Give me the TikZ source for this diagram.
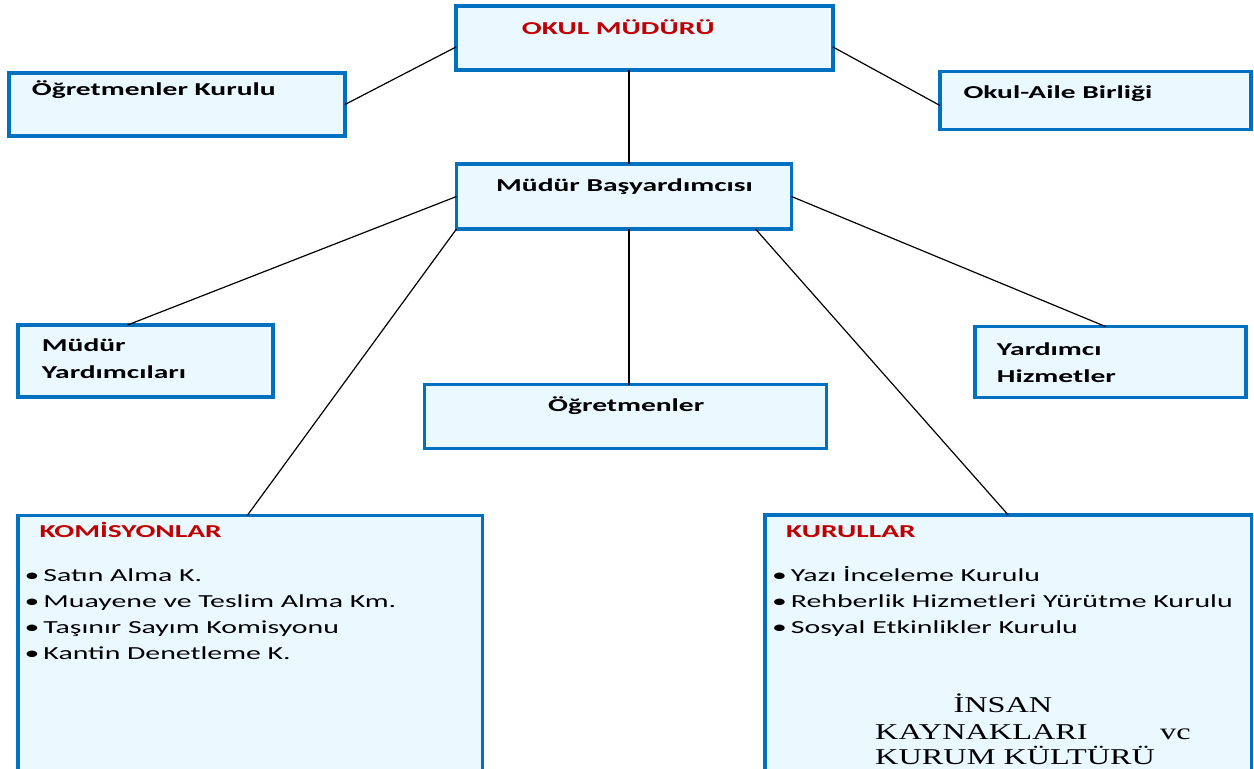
\documentclass[tikz,border=0pt]{standalone}
\usepackage{fontspec}
\setmainfont{Carlito}[FakeStretch=1.62]
\newfontfamily\timesx{Liberation Serif}[FakeStretch=1.43]
\definecolor{boxblue}{RGB}{0,112,192}
\definecolor{boxfill}{RGB}{234,248,255}
\definecolor{titlered}{RGB}{192,0,0}
\newcommand{\itemdot}{\llap{•\hspace{4pt}}}
\tikzset{
  orgbox/.style={draw=boxblue, line width=3.4pt, fill=boxfill, rectangle,
    anchor=north west, inner sep=0pt, outer sep=0pt},
  headtxt/.style={anchor=base west, inner sep=0pt,
    font=\fontsize{18.2}{20}\selectfont\bfseries},
  redtxt/.style={headtxt, text=titlered},
  itemtxt/.style={anchor=base west, inner sep=0pt,
    font=\fontsize{18.4}{20}\selectfont},
  oldtxt/.style={anchor=base west, inner sep=0pt,
    font=\timesx\fontsize{22.6}{24}\selectfont},
  link/.style={line width=1.2pt}
}
\begin{document}
\begin{tikzpicture}[x=1pt,y=-1pt]
    \useasboundingbox (0,0) rectangle (1254,769);

    % Boxes
    \node[orgbox, minimum width=377pt, minimum height=64pt] (okul) at (456,6) {};
    \node[orgbox, minimum width=336pt, minimum height=63pt] (ogk) at (9,73) {};
    \node[orgbox, minimum width=311pt, minimum height=58pt] (oab) at (940,71.5) {};
    \node[orgbox, minimum width=335pt, minimum height=65pt] (mby) at (456.5,164) {};
    \node[orgbox, minimum width=255pt, minimum height=72pt] (my) at (18,325) {};
    \node[orgbox, minimum width=271pt, minimum height=71pt] (yh) at (975,326.5) {};
    \node[orgbox, minimum width=402pt, minimum height=64pt] (ogr) at (424.5,384.5) {};
    \node[orgbox, minimum width=464.5pt, minimum height=270pt] (kom) at (18,515.5) {};
    \node[orgbox, minimum width=486.5pt, minimum height=270pt] (kur) at (765,515) {};

    % Connections
    \draw[link] ([yshift=-9pt]okul.west) -- (ogk.east);
    \draw[link] ([yshift=-9pt]okul.east) -- ([yshift=-5pt]oab.west);
    \draw[link] ([xshift=5pt]mby.north) -- ([xshift=5pt]mby.north |- okul.south);
    \draw[link] (mby.west) -- ([xshift=-18pt]my.north);
    \draw[link] (mby.south west) -- ([xshift=-3pt]kom.north);
    \draw[link] ([xshift=5pt]mby.south) -- ([xshift=5pt]mby.south |- ogr.north);
    \draw[link] ([xshift=-36pt]mby.south east) -- (kur.north);
    \draw[link] (mby.east) -- ([xshift=-5pt]yh.north);

    % Texts
    \node[redtxt] (tokul) at (521.7,34.3) {OKUL MÜDÜRÜ};
    \node[headtxt] (togk) at (31.7,95) {Öğretmenler Kurulu};
    \node[headtxt] (toab) at (963.3,98.3) {Okul-Aile Birliği};
    \node[headtxt] (tmby) at (496,191.7) {Müdür Başyardımcısı};
    \node[headtxt] (tmy1) at (41.7,351.7) {Müdür};
    \node[headtxt] (tmy2) at (41.7,378.3) {Yardımcıları};
    \node[headtxt] (tyh1) at (996.7,355) {Yardımcı};
    \node[headtxt] (tyh2) at (996.7,382.3) {Hizmetler};
    \node[headtxt] (togr) at (548,411.5) {Öğretmenler};

    % Komisyonlar
    \node[redtxt] (tkom) at (39.3,537.3) {KOMİSYONLAR};
    \node[itemtxt] (k1) at (43.3,581) {\itemdot Satın Alma K.};
    \node[itemtxt] (k2) at (43.3,607.3) {\itemdot Muayene ve Teslim Alma Km.};
    \node[itemtxt] (k3) at (43.3,633.3) {\itemdot Taşınır Sayım Komisyonu};
    \node[itemtxt] (k4) at (43.3,659.3) {\itemdot Kantin Denetleme K.};

    % Kurullar
    \node[redtxt] (tkur) at (786,537.7) {KURULLAR};
    \node[itemtxt] (r1) at (790.7,581) {\itemdot Yazı İnceleme Kurulu};
    \node[itemtxt] (r2) at (790.7,607) {\itemdot Rehberlik Hizmetleri Yürütme Kurulu};
    \node[itemtxt] (r3) at (790.7,633.3) {\itemdot Sosyal Etkinlikler Kurulu};
    \node[oldtxt] (ik1) at (953.3,712.3) {İNSAN};
    \node[oldtxt] (ik2) at (875,739) {KAYNAKLARI};
    \node[oldtxt] (ik3) at (1160,739) {vc};
    \node[oldtxt] (ik4) at (875,764.3) {KURUM KÜLTÜRÜ};
\end{tikzpicture}
\end{document}
